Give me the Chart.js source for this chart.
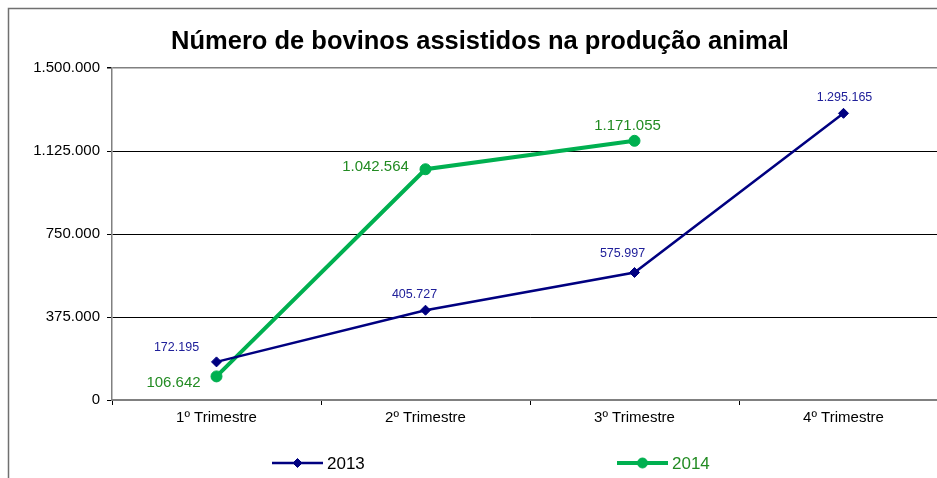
<!DOCTYPE html>
<html>
<head>
<meta charset="utf-8">
<title>Número de bovinos assistidos na produção animal</title>
<script src="https://cdn.jsdelivr.net/npm/chart.js@4/dist/chart.umd.min.js"></script>
<style>
  html, body { margin: 0; padding: 0; background: #fff; overflow: hidden; }
  #wrap { width: 937px; height: 478px; overflow: hidden; position: relative; }
  #chart { position: absolute; left: 0; top: 0; }
</style>
</head>
<body>
<div id="wrap"><canvas id="chart" width="960" height="478"></canvas></div>
<script>
// Quarterly figures
const categories = ['1º Trimestre', '2º Trimestre', '3º Trimestre', '4º Trimestre'];
const values2013 = [172195, 405727, 575997, 1295165];
const values2014 = [106642, 1042564, 1171055, null];
const seriesNames = ['2013', '2014'];
const yTicks = [0, 375000, 750000, 1125000, 1500000];

const FONT = "'Liberation Sans', Arial, sans-serif";
const NAVY = '#000080';
const GREEN = '#00b050';
const NAVY_TEXT = '#20209a';
const GREEN_TEXT = '#228b22';

// Thousands separated by dots (pt-BR style)
function fmt(v) {
  return String(Math.round(v)).replace(/\B(?=(\d{3})+(?!\d))/g, '.');
}

// Placement of each value label relative to its point
const labelPlacement = [
  { color: NAVY_TEXT, size: 12.5, offsets: [[-40, -14], [-11, -16], [-12, -19], [1, -16]] },
  { color: GREEN_TEXT, size: 15, offsets: [[-43, 6], [-50, -2], [-7, -15], [0, 0]] }
];

const framePlugin = {
  id: 'frame',
  beforeDraw(chart) {
    const ctx = chart.ctx;
    ctx.save();
    ctx.fillStyle = '#fff';
    ctx.fillRect(0, 0, chart.width, chart.height);
    ctx.strokeStyle = '#707070';
    ctx.lineWidth = 1.5;
    ctx.beginPath();
    ctx.moveTo(8.5, chart.height + 5);
    ctx.lineTo(8.5, 8.5);
    ctx.lineTo(chart.width + 5, 8.5);
    ctx.stroke();
    // title
    ctx.fillStyle = '#000';
    ctx.font = 'bold 25.5px ' + FONT;
    ctx.textAlign = 'center';
    ctx.textBaseline = 'middle';
    ctx.fillText('Número de bovinos assistidos na produção animal', 480, 42);
    ctx.restore();
  }
};

const valueLabelPlugin = {
  id: 'valueLabels',
  afterDatasetsDraw(chart) {
    const ctx = chart.ctx;
    ctx.save();
    ctx.textAlign = 'center';
    ctx.textBaseline = 'middle';
    chart.data.datasets.forEach((ds, di) => {
      const meta = chart.getDatasetMeta(di);
      const p = labelPlacement[di];
      ctx.fillStyle = p.color;
      ctx.font = p.size + 'px ' + FONT;
      ds.data.forEach((v, i) => {
        if (v === null) return;
        const el = meta.data[i];
        const [dx, dy] = p.offsets[i];
        ctx.fillText(fmt(v), el.x + dx, el.y + dy);
      });
    });
    ctx.restore();
  }
};

// Legend with the two entries spread across the bottom
const legendPlugin = {
  id: 'spreadLegend',
  afterDraw(chart) {
    const ctx = chart.ctx;
    const items = [
      { x: 272, ds: chart.data.datasets[0], text: '#000', r: 4.5 },
      { x: 617, ds: chart.data.datasets[1], text: GREEN_TEXT, r: 5 }
    ];
    const y = 463;
    ctx.save();
    items.forEach(it => {
      const ds = it.ds;
      ctx.strokeStyle = ds.borderColor;
      ctx.lineWidth = ds.borderWidth;
      ctx.beginPath();
      ctx.moveTo(it.x, y);
      ctx.lineTo(it.x + 51, y);
      ctx.stroke();
      ctx.fillStyle = ds.borderColor;
      ctx.lineWidth = 1;
      Chart.helpers.drawPoint(ctx, {
        pointStyle: ds.pointStyle,
        radius: it.r,
        borderWidth: 1
      }, it.x + 25.5, y);
      ctx.fillStyle = it.text;
      ctx.font = '17px ' + FONT;
      ctx.textAlign = 'left';
      ctx.textBaseline = 'middle';
      ctx.fillText(ds.label, it.x + 55, y + 1);
    });
    ctx.restore();
  }
};

new Chart(document.getElementById('chart'), {
  type: 'line',
  data: {
    labels: categories,
    datasets: [
      {
        label: seriesNames[0],
        data: values2013,
        borderColor: NAVY,
        backgroundColor: NAVY,
        borderWidth: 2.5,
        pointStyle: 'rectRot',
        pointRadius: 5,
        pointBorderWidth: 1,
        pointBorderColor: NAVY,
        pointBackgroundColor: NAVY,
        tension: 0
      },
      {
        label: seriesNames[1],
        data: values2014,
        borderColor: GREEN,
        backgroundColor: GREEN,
        borderWidth: 4,
        pointStyle: 'circle',
        pointRadius: 5.5,
        pointBorderWidth: 1,
        pointBorderColor: GREEN,
        pointBackgroundColor: GREEN,
        spanGaps: false,
        tension: 0
      }
    ]
  },
  options: {
    responsive: false,
    animation: false,
    devicePixelRatio: 1,
    layout: { padding: { top: 68, right: 12, left: 0, bottom: 0 } },
    plugins: {
      legend: { display: false },
      title: { display: false },
      tooltip: { enabled: false }
    },
    scales: {
      x: {
        offset: true,
        grid: {
          offset: true,
          drawOnChartArea: false,
          drawTicks: true,
          tickLength: 5,
          tickColor: '#000'
        },
        border: { color: '#808080', width: 2 },
        ticks: {
          color: '#000',
          font: { family: FONT, size: 15 },
          padding: 4,
          maxRotation: 0
        },
        afterFit(scale) { scale.height = 78; }
      },
      y: {
        min: 0,
        max: 1500000,
        afterBuildTicks(scale) { scale.ticks = yTicks.map(v => ({ value: v })); },
        grid: {
          color: ctx => (ctx.tick && ctx.tick.value === 1500000) ? '#808080' : (ctx.tick && ctx.tick.value === 0 ? 'rgba(0,0,0,0)' : '#000'),
          lineWidth: ctx => (ctx.tick && ctx.tick.value === 1500000) ? 1.5 : 1,
          tickColor: '#000',
          tickLength: 5
        },
        border: { color: '#808080', width: 1.5 },
        ticks: {
          color: '#000',
          font: { family: FONT, size: 15 },
          padding: 7,
          callback: v => fmt(v)
        },
        afterFit(scale) { scale.width = 112; }
      }
    }
  },
  plugins: [framePlugin, valueLabelPlugin, legendPlugin]
});
</script>
</body>
</html>
